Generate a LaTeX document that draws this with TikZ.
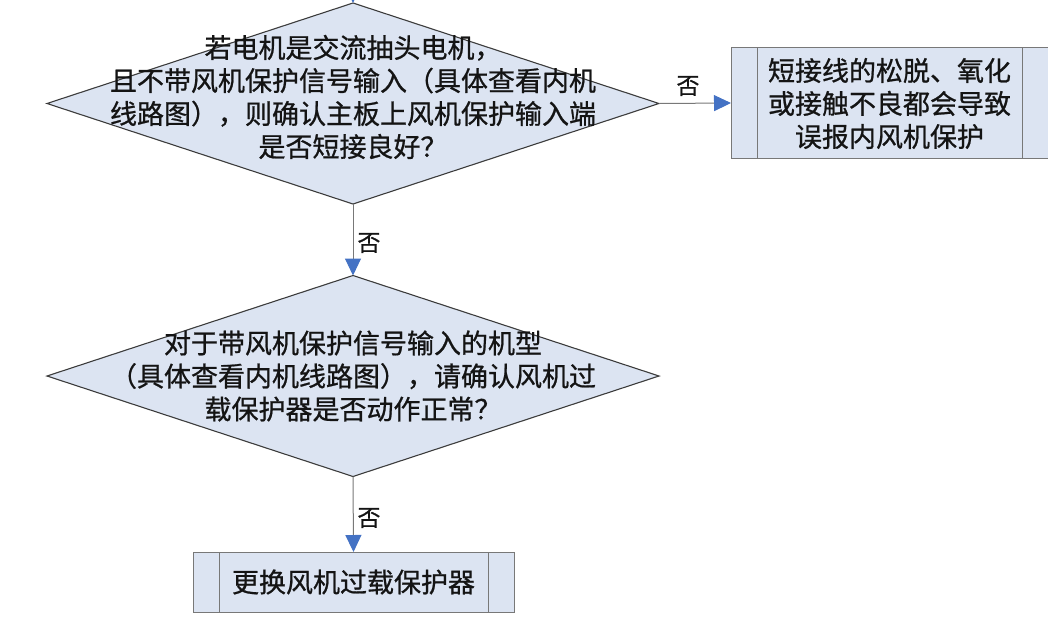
\documentclass[tikz,border=0pt]{standalone}
\usepackage{fontspec}
\setmainfont{Noto Sans CJK SC}[FakeBold=0.8]
\usetikzlibrary{shapes.geometric,arrows.meta}
\definecolor{fillblue}{RGB}{220,228,242}
\definecolor{diaedge}{RGB}{60,60,60}
\definecolor{boxedge}{RGB}{120,120,120}
\definecolor{conncol}{RGB}{120,120,120}
\definecolor{arrowblue}{RGB}{68,114,196}
\definecolor{textcol}{RGB}{20,20,20}
\begin{document}
\begin{tikzpicture}[x=1pt,y=-1pt,
  dia/.style={diamond, draw=diaedge, fill=fillblue, line width=1.1pt, minimum width=612pt, minimum height=201pt, inner sep=0pt, outer sep=0pt},
  procbox/.style={rectangle, draw=boxedge, fill=fillblue, line width=1pt, inner sep=0pt, outer sep=0pt},
  innerline/.style={draw=boxedge, line width=1pt},
  txt/.style={align=center, font=\fontsize{27}{33}\selectfont, text=textcol, inner sep=0pt},
  lbl/.style={font=\fontsize{23}{26}\selectfont, text=textcol, inner sep=0pt},
  conn/.style={draw=conncol, line width=1pt, -{Triangle[length=17pt,width=16pt,fill=arrowblue,color=arrowblue]}}
]
\useasboundingbox (0,0) rectangle (1048,624);
% shapes
\node[dia] (d1) at (353,103.5) {};
\node[dia] (d2) at (353,376) {};
\node[procbox, minimum width=317pt, minimum height=111pt] (b1) at (889.5,103) {};
\node[procbox, minimum width=321pt, minimum height=60pt] (b2) at (353.5,582) {};
\draw[innerline] ([xshift=26pt]b1.north west) -- ([xshift=26pt]b1.south west);
\draw[innerline] ([xshift=-26pt]b1.north east) -- ([xshift=-26pt]b1.south east);
\draw[innerline] ([xshift=26pt]b2.north west) -- ([xshift=26pt]b2.south west);
\draw[innerline] ([xshift=-26pt]b2.north east) -- ([xshift=-26pt]b2.south east);
% texts
\node[txt] (t1) at (353,97) {若电机是交流抽头电机，\\且不带风机保护信号输入（具体查看内机\\线路图），则确认主板上风机保护输入端\\是否短接良好？};
\node[txt] (t2) at (353,376) {对于带风机保护信号输入的机型\\（具体查看内机线路图），请确认风机过\\载保护器是否动作正常？};
\node[txt] (tb1) at (889.5,103.5) {短接线的松脱、氧化\\或接触不良都会导致\\误报内风机保护};
\node[txt] (tb2) at (353.5,582) {更换风机过载保护器};
% connectors
\coordinate (topin) at (353,-40);
\draw[conn] (topin) -- (d1.north);
\draw[conn] (d1.east) -- (b1.west);
\draw[conn] (d1.south) -- (d2.north);
\draw[conn] (d2.south) -- (b2.north);
% labels
\node[lbl] (l1) at (688,86) {否};
\node[lbl] (l2) at (369,243) {否};
\node[lbl] (l3) at (369,518) {否};
\end{tikzpicture}
\end{document}
